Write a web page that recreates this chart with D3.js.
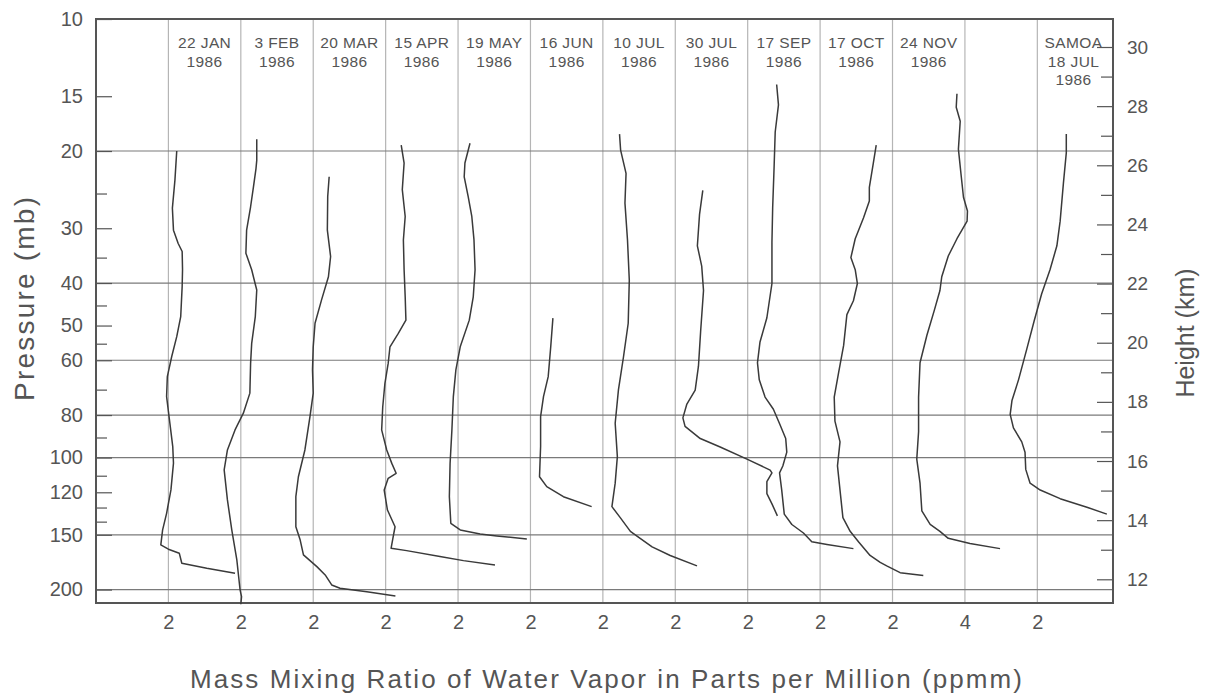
<!DOCTYPE html>
<html>
<head>
<meta charset="utf-8">
<script src="https://cdn.jsdelivr.net/npm/d3@7"></script>
<style>
  html, body { margin: 0; padding: 0; background: #fff; }
  svg { display: block; }
  text { font-family: "Liberation Sans", Arial, Helvetica, sans-serif; fill: #555; }
</style>
</head>
<body>
<svg id="chart" width="1208" height="697"></svg>
<script>
// ---------------- DATA ----------------
const profileNames = ["22 JAN", "3 FEB", "20 MAR", "15 APR", "19 MAY", "16 JUN",
                      "10 JUL", "30 JUL", "17 SEP", "17 OCT", "24 NOV", "SAMOA"];
const profileSubtitles = [["1986"], ["1986"], ["1986"], ["1986"], ["1986"], ["1986"],
                          ["1986"], ["1986"], ["1986"], ["1986"], ["1986"], ["18 JUL", "1986"]];
// offset of each profile along the shared ppmm axis (each grid step = 2 ppmm)
const profileOffsets = [0, 2, 4, 6, 8, 10, 12, 14, 16, 18, 20, 24];

// each profile: [pressure (mb), mixing ratio (ppmm)]
const jan22 = [[20.0,2.23],[23.3,2.18],[27.0,2.11],[30.3,2.14],[32.5,2.27],[33.9,2.38],[37.3,2.39],[40.7,2.38],[47.7,2.34],[53.0,2.23],[58.9,2.09],[65.4,1.97],[72.6,1.95],[83.5,2.04],[94.4,2.12],[103,2.14],[118.5,2.07],[134,1.95],[146.2,1.84],[158.2,1.79],[161.8,2.0],[165.2,2.30],[174.2,2.37],[178.8,3.06],[183.5,3.84]];
const feb3 = [[18.8,2.44],[21.0,2.44],[21.9,2.42],[24.1,2.35],[26.8,2.27],[30.3,2.16],[34.2,2.14],[37.3,2.30],[41.5,2.44],[47.7,2.40],[54.9,2.30],[61.0,2.27],[71.3,2.25],[79.2,2.07],[86.5,1.84],[96.1,1.63],[106.7,1.54],[124.9,1.63],[146.2,1.75],[171.2,1.89],[200.4,1.98],[207.5,2.02],[216,2.0]];
const mar20 = [[22.9,2.44],[25.4,2.40],[30.3,2.39],[34.8,2.48],[38.7,2.42],[43.7,2.23],[49.4,2.05],[55.9,2.0],[63.1,1.98],[71.3,2.0],[80.7,1.91],[96.1,1.77],[110.6,1.59],[122.8,1.52],[143.8,1.52],[154.2,1.64],[166.7,1.73],[177.3,2.10],[185.2,2.33],[195.2,2.51],[198.6,2.74],[202.2,3.48],[206.8,4.27]];
const apr15 = [[19.4,2.43],[21.3,2.51],[24.5,2.46],[28.2,2.54],[31.9,2.49],[37.3,2.51],[43.0,2.54],[48.6,2.56],[52.1,2.35],[55.9,2.12],[61.0,2.07],[67.7,1.98],[76.6,1.92],[86.5,1.89],[96.1,2.03],[103.1,2.17],[108.6,2.29],[111.5,2.07],[118.6,1.96],[131.7,2.05],[143.8,2.26],[152.8,2.20],[161,2.15],[163,2.58],[168.2,3.50],[171.8,4.15],[175.8,5.02]];
const may19 = [[19.2,2.33],[21.3,2.19],[22.9,2.17],[25.4,2.28],[28.2,2.38],[31.9,2.44],[37.3,2.47],[43.0,2.42],[48.6,2.31],[55.9,2.06],[63.1,1.94],[72.6,1.87],[86.5,1.83],[103.1,1.78],[122.8,1.76],[141.2,1.80],[146.2,2.06],[149.4,2.61],[150.9,3.07],[153.4,3.90]];
const jun16 = [[48.1,2.62],[55.9,2.56],[65.4,2.49],[72.6,2.36],[80.7,2.28],[94.4,2.28],[110.6,2.25],[116.5,2.45],[122.8,2.91],[129.4,3.69]];
const jul10 = [[18.3,2.46],[19.9,2.49],[22.5,2.64],[26.3,2.61],[31.9,2.68],[39.4,2.73],[49.4,2.70],[58.9,2.57],[70.1,2.43],[83.5,2.34],[99.5,2.40],[114.4,2.34],[129.4,2.25],[137.1,2.48],[147.3,2.76],[152.8,3.03],[159.8,3.36],[167.2,3.86],[176.6,4.60]];
const jul30 = [[24.6,2.76],[27.9,2.67],[32.9,2.61],[36.6,2.73],[41.6,2.78],[51.6,2.70],[61.9,2.64],[70.2,2.55],[75.5,2.32],[81.2,2.21],[84.9,2.27],[90.5,2.69],[94.6,3.24],[100.8,3.98],[106.8,4.62],[108.4,4.67],[113.4,4.53],[120.8,4.53],[127.5,4.67],[135.8,4.82]];
const sep17 = [[14.1,2.80],[15.7,2.85],[18.1,2.76],[21.7,2.73],[26.9,2.69],[32.3,2.67],[40.1,2.67],[48.0,2.53],[54.5,2.34],[60.8,2.27],[66.5,2.32],[72.8,2.48],[77.6,2.71],[84.1,2.89],[90.5,3.05],[97.2,3.08],[104.5,2.97],[108.4,2.88],[118.6,2.94],[134.6,3.01],[142.1,3.22],[148.6,3.54],[155.6,3.77],[157.8,4.19],[161.3,4.92]];
const oct17 = [[19.4,3.55],[21.3,3.47],[24.2,3.36],[26.0,3.36],[28.4,3.20],[31.7,2.97],[35.0,2.85],[37.3,2.97],[40.1,3.03],[43.9,2.92],[47.2,2.74],[55.5,2.65],[64.1,2.51],[72.8,2.39],[82.6,2.41],[92.1,2.55],[104.5,2.48],[118.6,2.55],[137.1,2.63],[147.3,2.83],[155.6,3.06],[167.2,3.38],[173.4,3.66],[176.6,3.84],[183.0,4.21],[185.7,4.85]];
const nov24 = [[14.8,3.78],[15.9,3.76],[17.1,3.87],[19.8,3.82],[22.5,3.89],[25.5,3.96],[27.4,4.07],[28.9,4.06],[31.7,3.78],[34.7,3.54],[38.7,3.36],[41.6,3.31],[46.3,3.15],[52.6,2.95],[60.8,2.76],[72.8,2.72],[87.3,2.72],[100.8,2.67],[114.4,2.76],[132.3,2.81],[142.1,3.04],[147.3,3.31],[152.8,3.54],[157,4.14],[161.3,4.97]];
const samoa = [[18.3,2.80],[20.2,2.80],[23.7,2.72],[28.9,2.63],[32.9,2.54],[37.3,2.35],[42.3,2.12],[48.9,1.91],[56.5,1.71],[66.5,1.48],[74.1,1.30],[79.7,1.25],[85.6,1.34],[92.1,1.57],[97.2,1.66],[106.4,1.68],[114.4,1.80],[118.6,2.08],[124.1,2.63],[129.8,3.37],[134.6,3.92]];
const profiles = [jan22, feb3, mar20, apr15, may19, jun16, jul10, jul30, sep17, oct17, nov24, samoa];

// axis ticks
const pressureLabels = [10, 15, 20, 30, 40, 50, 60, 80, 100, 120, 150, 200];
const pressureMinor = [25, 35, 45, 55, 70, 90, 110, 130, 140];
const pressureGrid = [20, 40, 60, 80, 100, 150, 200];
const heightLabels = [12, 14, 16, 18, 20, 22, 24, 26, 28, 30];
const heightMinor = [13, 15, 17, 19, 21, 23, 25, 27, 29];
const xTickPositions = [2, 4, 6, 8, 10, 12, 14, 16, 18, 20, 22, 24, 26];
const xTickLabels = ["2", "2", "2", "2", "2", "2", "2", "2", "2", "2", "2", "4", "2"];

// ---------------- LAYOUT ----------------
const L = 96, R = 1113, T = 19, B = 603;
const svg = d3.select("#chart");

const x = d3.scaleLinear().domain([0, 28.09]).range([L, R]);
const y = d3.scaleLog().domain([10, 214.6]).range([T, B]);
const h = d3.scaleLinear().domain([12, 30]).range([579.3, 47]);

// vertical grid
svg.append("g").selectAll("line").data(xTickPositions).join("line")
  .attr("x1", d => x(d)).attr("x2", d => x(d))
  .attr("y1", T).attr("y2", B)
  .attr("stroke", "#b5b5b5").attr("stroke-width", 1.2);

// horizontal grid
svg.append("g").selectAll("line").data(pressureGrid).join("line")
  .attr("x1", L).attr("x2", R)
  .attr("y1", d => y(d)).attr("y2", d => y(d))
  .attr("stroke", "#7a7a7a").attr("stroke-width", 1.2);

// left axis (major + minor ticks, inward)
const leftMajor = svg.append("g").attr("transform", `translate(${L},0)`)
  .call(d3.axisLeft(y).tickValues(pressureLabels).tickFormat(d => d).tickSize(-16).tickPadding(13));
const leftMinor = svg.append("g").attr("transform", `translate(${L},0)`)
  .call(d3.axisLeft(y).tickValues(pressureMinor).tickFormat("").tickSize(-11));

// right axis
const rightMajor = svg.append("g").attr("transform", `translate(${R},0)`)
  .call(d3.axisRight(h).tickValues(heightLabels).tickFormat(d => d).tickSize(-16).tickPadding(14));
const rightMinor = svg.append("g").attr("transform", `translate(${R},0)`)
  .call(d3.axisRight(h).tickValues(heightMinor).tickFormat("").tickSize(-12));

// bottom axis labels
const bottom = svg.append("g").attr("transform", `translate(0,${B})`)
  .call(d3.axisBottom(x).tickValues(xTickPositions).tickFormat((d, i) => xTickLabels[i]).tickSize(0).tickPadding(12));

[leftMajor, leftMinor, rightMajor, rightMinor, bottom].forEach(g => {
  g.select(".domain").remove();
  g.selectAll(".tick line").attr("stroke", "#555").attr("stroke-width", 1.2);
  g.selectAll("text").attr("font-family", '"Liberation Sans", Arial, sans-serif')
    .attr("font-size", 20).attr("fill", "#555");
});
rightMajor.selectAll("text").attr("font-size", 19);

// frame
svg.append("rect").attr("x", L).attr("y", T).attr("width", R - L).attr("height", B - T)
  .attr("fill", "none").attr("stroke", "#555").attr("stroke-width", 2);

// profiles
const line = d3.line()
  .x(d => x(d.off + d.v))
  .y(d => y(d.p));
profiles.forEach((prof, i) => {
  const pts = prof.map(([p, v]) => ({ p, v, off: profileOffsets[i] }));
  svg.append("path").datum(pts)
    .attr("d", line)
    .attr("fill", "none")
    .attr("stroke", "#3a3a3a")
    .attr("stroke-width", 1.5)
    .attr("stroke-linejoin", "round");
});

// panel labels
const labG = svg.append("g");
profileNames.forEach((name, i) => {
  const cx = x(profileOffsets[i] + 3);
  const lines = [name].concat(profileSubtitles[i]);
  lines.forEach((t, j) => {
    labG.append("text")
      .attr("x", cx).attr("y", 48 + j * 18.7)
      .attr("text-anchor", "middle")
      .attr("font-size", 15.5)
      .attr("letter-spacing", 0.4)
      .attr("fill", "#555")
      .text(t);
  });
});

// axis titles
svg.append("text")
  .attr("transform", `translate(34,299) rotate(-90)`)
  .attr("text-anchor", "middle")
  .attr("font-size", 28)
  .attr("fill", "#555")
  .attr("textLength", 204)
  .attr("lengthAdjust", "spacing")
  .text("Pressure (mb)");

svg.append("text")
  .attr("transform", `translate(1194,333) rotate(-90)`)
  .attr("text-anchor", "middle")
  .attr("font-size", 25)
  .attr("fill", "#555")
  .text("Height (km)");

svg.append("text")
  .attr("x", 606).attr("y", 688)
  .attr("text-anchor", "middle")
  .attr("font-size", 26)
  .attr("fill", "#555")
  .attr("textLength", 832)
  .attr("lengthAdjust", "spacing")
  .text("Mass Mixing Ratio of Water Vapor in Parts per Million (ppmm)");
</script>
</body>
</html>
